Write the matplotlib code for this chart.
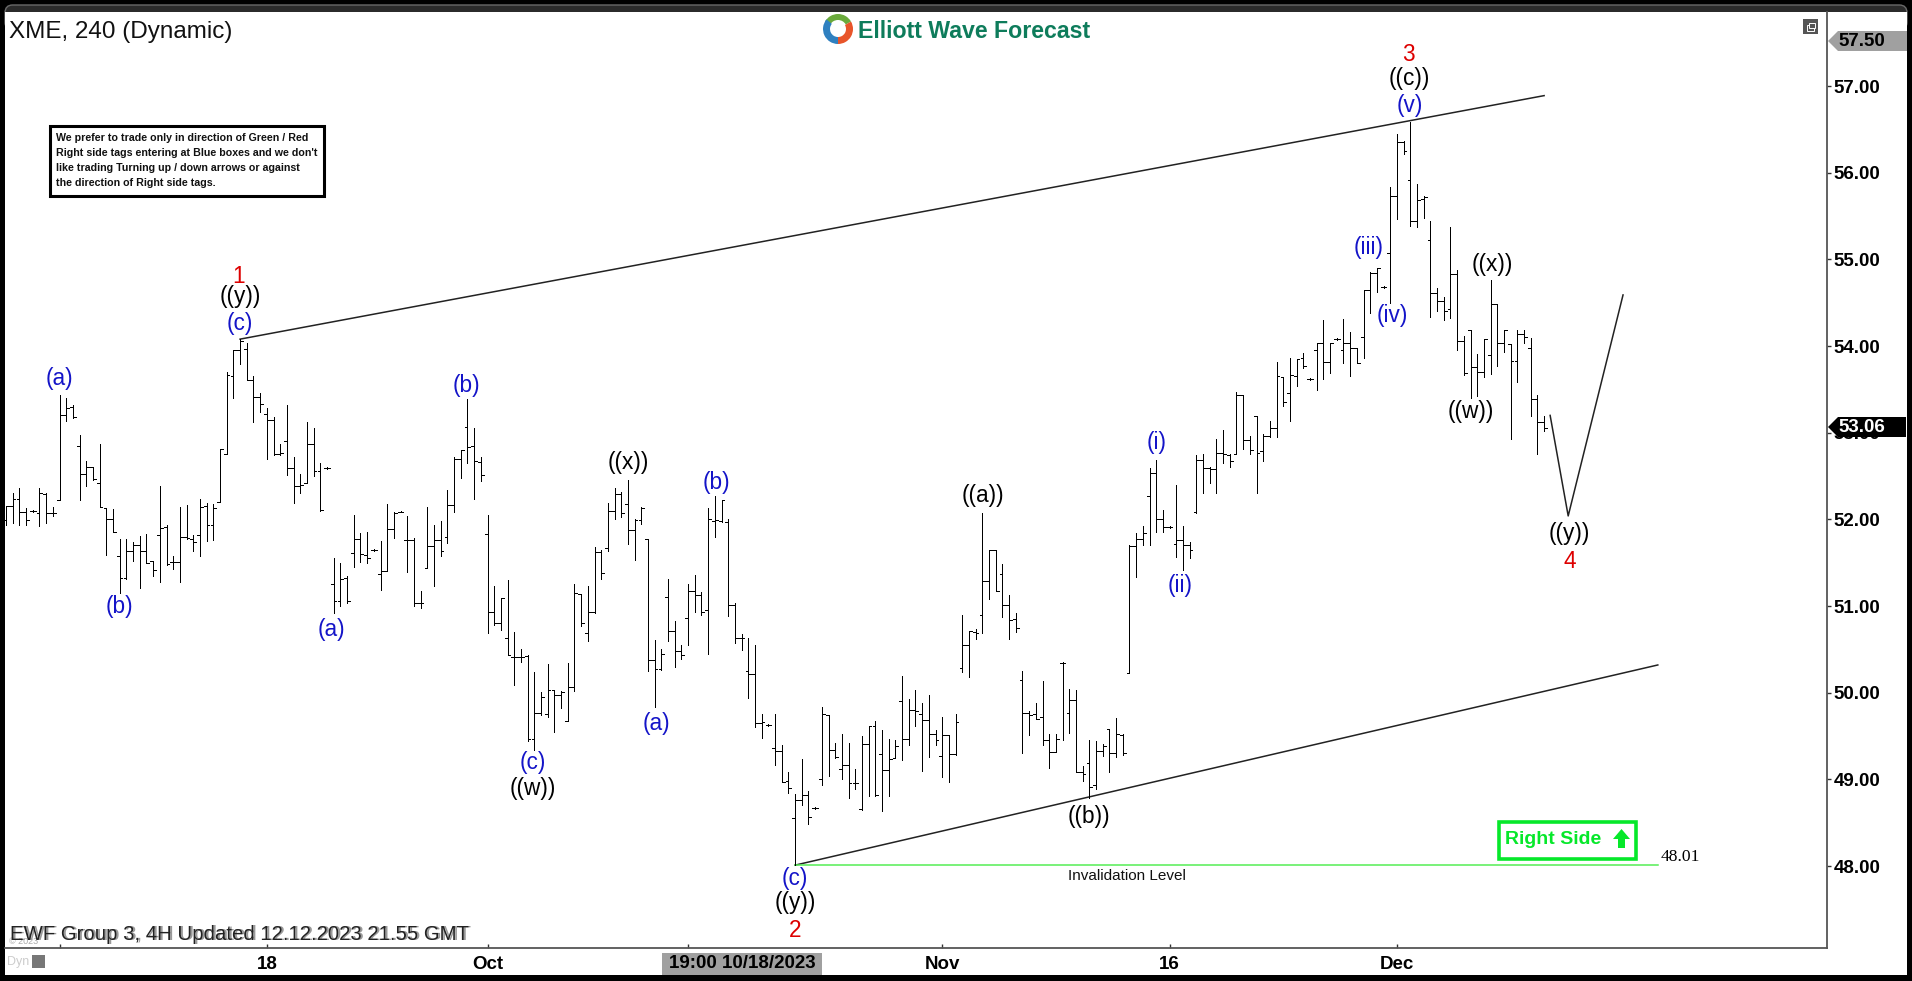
import matplotlib
matplotlib.use("Agg")
import matplotlib.pyplot as plt
from matplotlib.patches import FancyBboxPatch, Polygon, Rectangle, Wedge, Circle

plt.rcParams['font.family'] = ['Liberation Sans', 'DejaVu Sans']

W, H = 1912, 981

# 4H bars, XME (one row = 10 bars)
highs = [
    52.15, 52.31, 52.36, 52.13, 52.11, 52.36, 52.30, 52.14, 53.44, 53.40,
    53.32, 52.97, 52.67, 52.61, 52.87, 52.13, 52.12, 51.77, 51.77, 51.74,
    51.81, 51.83, 51.52, 52.39, 51.94, 51.58, 52.14, 52.17, 51.82, 52.24,
    52.19, 52.18, 52.81, 53.70, 53.95, 54.08, 54.03, 53.65, 53.46, 53.28,
    53.18, 52.87, 53.32, 52.72, 52.52, 53.12, 53.05, 52.65, 52.60, 51.55,
    51.50, 51.35, 52.05, 51.84, 51.85, 51.66, 51.75, 52.18, 52.08, 52.10,
    52.04, 51.78, 51.17, 52.14, 51.94, 51.98, 52.34, 52.72, 52.80, 53.39,
    53.05, 52.72, 52.05, 51.23, 51.09, 51.30, 50.70, 50.51, 50.44, 50.24,
    50.01, 50.33, 50.03, 50.02, 50.34, 51.25, 51.14, 51.23, 51.68, 51.65,
    52.19, 52.36, 52.32, 52.45, 52.00, 52.14, 51.77, 50.61, 50.50, 51.31,
    50.83, 50.55, 51.26, 51.36, 51.16, 52.13, 52.27, 52.22, 52.00, 51.04,
    50.68, 50.63, 50.55, 49.75, 49.64, 49.75, 49.40, 49.09, 48.83, 49.24,
    48.87, 48.68, 49.83, 49.74, 49.42, 49.52, 49.42, 49.12, 49.50, 49.62,
    49.67, 49.57, 49.47, 49.45, 50.19, 49.93, 50.03, 49.88, 49.97, 49.57,
    49.72, 49.51, 49.75, 50.90, 50.71, 50.74, 52.07, 51.65, 51.65, 51.48,
    51.13, 50.92, 50.25, 49.79, 49.88, 50.13, 49.52, 49.52, 50.35, 50.04,
    50.03, 49.15, 49.45, 49.44, 49.41, 49.58, 49.71, 49.52, 51.70, 51.84,
    51.92, 52.59, 52.68, 52.11, 51.92, 52.40, 51.92, 51.74, 52.74, 52.76,
    52.60, 52.93, 53.03, 52.76, 53.47, 53.43, 52.96, 53.19, 52.98, 53.13,
    53.82, 53.64, 53.86, 53.85, 53.92, 53.63, 54.04, 54.30, 54.04, 54.09,
    54.31, 54.16, 53.98, 54.65, 54.85, 54.90, 54.69, 55.83, 56.45, 56.37,
    56.59, 55.87, 55.73, 55.44, 54.67, 54.57, 55.37, 54.88, 54.12, 54.19,
    53.91, 54.08, 54.76, 54.49, 54.19, 54.02, 54.18, 54.19, 54.09, 53.44,
    53.19,
]
lows = [
    51.94, 51.96, 51.94, 51.94, 52.09, 51.92, 51.96, 52.04, 52.22, 53.13,
    53.17, 52.22, 52.38, 52.45, 52.14, 51.59, 51.86, 51.15, 51.31, 51.52,
    51.21, 51.50, 51.35, 51.28, 51.47, 51.43, 51.28, 51.77, 51.63, 51.58,
    51.75, 51.76, 52.20, 52.76, 53.40, 53.79, 53.61, 53.12, 53.24, 52.70,
    52.74, 52.74, 52.51, 52.19, 52.31, 52.42, 52.50, 52.10, 52.58, 50.92,
    51.00, 51.04, 51.45, 51.51, 51.50, 51.64, 51.19, 51.40, 51.79, 52.08,
    51.39, 51.00, 50.98, 51.44, 51.23, 51.58, 51.73, 52.09, 52.48, 52.65,
    52.24, 52.44, 50.69, 50.78, 50.72, 50.43, 50.09, 50.35, 49.44, 49.34,
    49.74, 49.72, 49.55, 49.82, 49.67, 50.02, 50.77, 50.60, 50.92, 51.31,
    51.63, 52.01, 52.03, 51.72, 51.53, 51.95, 50.25, 49.83, 50.26, 50.60,
    50.30, 50.39, 50.55, 50.93, 50.90, 50.45, 51.80, 51.97, 50.89, 50.57,
    50.49, 49.94, 49.61, 49.48, 49.62, 49.17, 48.97, 48.84, 48.01, 48.70,
    48.48, 48.66, 48.93, 49.04, 49.25, 49.00, 48.78, 48.89, 48.65, 48.81,
    48.81, 48.63, 48.81, 49.25, 49.22, 49.40, 49.62, 49.10, 49.26, 49.40,
    49.03, 48.97, 49.28, 50.24, 50.18, 50.62, 50.69, 51.08, 51.17, 50.87,
    50.62, 50.70, 49.30, 49.51, 49.70, 49.40, 49.13, 49.31, 49.45, 49.53,
    49.08, 48.98, 48.78, 48.89, 49.27, 49.08, 49.26, 49.28, 50.23, 51.34,
    51.71, 51.71, 51.85, 51.85, 51.90, 51.57, 51.42, 51.55, 52.07, 52.31,
    52.42, 52.31, 52.65, 52.60, 52.76, 52.81, 52.76, 52.31, 52.67, 52.95,
    52.95, 53.31, 53.13, 53.54, 53.75, 53.61, 53.49, 53.62, 53.69, 54.07,
    53.81, 53.66, 53.81, 53.86, 54.38, 54.62, 54.67, 54.50, 55.47, 56.22,
    55.39, 55.37, 55.48, 54.34, 54.41, 54.30, 54.32, 53.96, 53.67, 53.40,
    53.42, 53.64, 53.68, 53.77, 53.93, 52.93, 53.59, 54.03, 53.19, 52.76,
    53.02,
]
opens = [
    51.99, 52.15, 52.24, 52.08, 52.10, 52.07, 52.29, 52.07, 52.22, 53.21,
    53.30, 52.85, 52.52, 52.61, 52.42, 52.13, 52.01, 51.58, 51.32, 51.64,
    51.70, 51.64, 51.52, 51.82, 51.91, 51.51, 51.51, 51.80, 51.77, 51.82,
    52.15, 51.94, 52.20, 52.76, 53.66, 53.96, 53.97, 53.61, 53.41, 53.22,
    53.15, 52.76, 52.90, 52.59, 52.39, 52.42, 52.87, 52.56, 52.59, 51.25,
    51.06, 51.32, 51.61, 51.77, 51.59, 51.65, 51.37, 51.41, 51.89, 52.09,
    51.76, 51.76, 51.03, 51.44, 51.69, 51.76, 51.80, 52.17, 52.70, 53.07,
    52.85, 52.66, 51.83, 50.93, 50.80, 50.63, 50.41, 50.41, 50.42, 49.47,
    49.77, 49.76, 50.03, 49.97, 49.67, 50.07, 51.14, 50.69, 50.93, 51.62,
    51.67, 52.10, 52.29, 52.18, 51.88, 51.99, 51.77, 50.38, 50.27, 51.11,
    50.71, 50.48, 50.86, 51.17, 51.13, 50.96, 51.98, 51.98, 51.97, 51.01,
    50.63, 50.25, 50.22, 49.65, 49.63, 49.36, 49.33, 48.98, 48.55, 48.76,
    48.82, 48.67, 49.00, 49.74, 49.34, 49.12, 49.17, 48.96, 48.66, 49.41,
    49.62, 49.29, 49.11, 49.25, 49.90, 49.47, 49.80, 49.75, 49.69, 49.52,
    49.27, 49.51, 49.29, 50.29, 50.55, 50.70, 50.90, 51.29, 51.65, 51.37,
    51.01, 50.85, 50.15, 49.77, 49.75, 49.72, 49.45, 49.31, 50.34, 49.77,
    49.92, 49.08, 49.19, 48.94, 49.33, 49.58, 49.30, 49.51, 50.23, 51.69,
    51.77, 52.27, 52.54, 52.01, 51.91, 51.72, 51.76, 51.70, 52.09, 52.68,
    52.59, 52.58, 52.77, 52.74, 52.76, 53.43, 52.92, 53.19, 52.79, 52.96,
    53.06, 53.64, 53.46, 53.65, 53.86, 53.62, 53.96, 54.04, 53.82, 54.08,
    53.96, 54.04, 53.98, 54.11, 54.65, 54.84, 54.68, 55.07, 55.73, 56.35,
    55.92, 55.44, 55.70, 55.22, 54.61, 54.52, 54.43, 54.83, 54.06, 54.19,
    53.76, 53.70, 53.90, 54.49, 54.04, 54.02, 53.83, 54.14, 53.98, 53.39,
    53.12,
]
closes = [
    52.15, 52.24, 52.08, 51.99, 52.10, 52.30, 52.07, 52.07, 53.21, 53.29,
    53.18, 52.52, 52.61, 52.47, 52.14, 52.01, 51.86, 51.32, 51.64, 51.70,
    51.64, 51.50, 51.42, 51.90, 51.48, 51.51, 51.80, 51.79, 51.74, 52.14,
    51.94, 52.13, 52.81, 53.67, 53.95, 54.06, 53.61, 53.41, 53.33, 53.15,
    52.76, 52.77, 52.59, 52.39, 52.40, 52.87, 52.56, 52.11, 52.59, 51.06,
    51.31, 51.06, 51.77, 51.60, 51.55, 51.65, 51.41, 51.89, 52.07, 52.09,
    51.76, 51.03, 51.03, 51.69, 51.76, 51.63, 52.17, 52.70, 52.80, 52.84,
    52.67, 52.51, 50.93, 50.80, 51.09, 50.43, 50.41, 50.41, 49.47, 49.77,
    49.95, 50.03, 49.97, 50.01, 50.07, 51.15, 50.81, 50.93, 51.62, 51.38,
    52.10, 52.29, 52.07, 51.88, 51.99, 52.13, 50.38, 50.27, 50.45, 50.71,
    50.48, 50.44, 51.17, 51.13, 50.93, 52.00, 51.99, 52.22, 51.01, 50.63,
    50.63, 50.22, 49.65, 49.66, 49.63, 49.33, 48.97, 48.90, 48.76, 48.82,
    48.56, 48.67, 49.75, 49.34, 49.26, 49.17, 48.96, 48.96, 49.41, 49.62,
    48.82, 49.11, 49.23, 49.39, 49.47, 49.80, 49.79, 49.69, 49.52, 49.45,
    49.51, 49.29, 49.66, 50.55, 50.71, 50.69, 51.29, 51.65, 51.17, 51.01,
    50.84, 50.75, 49.77, 49.74, 49.70, 49.45, 49.31, 49.46, 50.34, 49.92,
    49.08, 49.06, 48.91, 49.33, 49.38, 49.30, 49.52, 49.30, 51.69, 51.77,
    51.84, 52.54, 52.01, 51.91, 51.91, 51.76, 51.70, 51.65, 52.68, 52.59,
    52.58, 52.77, 52.75, 52.67, 53.43, 52.92, 52.80, 52.77, 52.96, 53.06,
    53.65, 53.35, 53.67, 53.85, 53.77, 53.62, 54.04, 53.82, 54.04, 54.08,
    54.04, 53.98, 53.81, 54.65, 54.84, 54.90, 54.68, 55.73, 56.35, 56.25,
    55.44, 55.69, 55.72, 54.61, 54.52, 54.41, 54.83, 54.06, 53.69, 53.76,
    53.70, 54.08, 54.49, 54.03, 54.19, 53.83, 54.14, 54.10, 53.39, 53.12,
    53.06,
]

# wave labels: text, bar number, price at the label centre
blue_labels = [("(a)", 8.0, 53.62), ("(b)", 17.0, 51.00), ("(a)", 48.7, 50.73), ("(b)", 68.8, 53.55),
               ("(c)", 78.8, 49.20), ("(a)", 97.2, 49.65), ("(b)", 106.3, 52.42), ("(c)", 118.0, 47.86),
               ("(c)", 35.0, 54.26), ("(i)", 172.0, 52.89), ("(ii)", 175.6, 51.24), ("(iii)", 203.7, 55.14),
               ("(iv)", 207.3, 54.35), ("(v)", 209.9, 56.78)]
black_labels = [("((y))", 35.0, 54.57), ("((w))", 78.8, 48.89), ("((x))", 93.0, 52.66), ("((y))", 118.0, 47.58),
                ("((a))", 146.1, 52.27), ("((b))", 162.0, 48.57), ("((c))", 209.9, 57.09), ("((x))", 222.3, 54.94),
                ("((w))", 219.0, 53.25), ("((y))", 233.8, 51.84)]
red_labels = [("1", 34.8, 54.80), ("2", 118.0, 47.26), ("3", 209.7, 57.36), ("4", 233.8, 51.51)]

# channel and projection lines
upper_x, upper_y = [35, 230], [54.08, 56.89]
lower_x, lower_y = [118, 247], [48.01, 50.32]
proj_x, proj_y = [230.9, 233.6, 241.8], [53.20, 52.04, 54.59]
invalid_x, invalid_y = [118, 247], [48.01, 48.01]

y_ticks = [48, 49, 50, 51, 52, 53, 54, 55, 56, 57]
x_ticks = [8, 39, 72, 102, 140, 174, 208]
x_labels = ["", "18", "Oct", "", "Nov", "16", "Dec"]

fig = plt.figure(figsize=(W / 100, H / 100), dpi=100, facecolor="black")


def fx(px):
    return px / W


def fy(py):
    return 1 - py / H


# window frame
fig.add_artist(FancyBboxPatch((fx(5), fy(30)), fx(1902), 25 / H, boxstyle="round,pad=0,rounding_size=0.004",
                              transform=fig.transFigure, fc="#2b2b2b", ec="#6a6a6a", lw=1, mutation_aspect=2,
                              zorder=-3))
fig.add_artist(Rectangle((fx(5), fy(975)), fx(1902), 963 / H, transform=fig.transFigure, fc="white", ec="none",
                         zorder=-2))

ax = fig.add_axes([fx(5), fy(948), fx(1822), 936 / H])
ax.patch.set_alpha(0)
ax.set_xlim(-0.15, 272.3)
ax.set_ylim(47.054, 57.855)

for s in ["left", "top"]:
    ax.spines[s].set_visible(False)
for s in ["right", "bottom"]:
    ax.spines[s].set_color("#555555")
    ax.spines[s].set_linewidth(1.3)

ax.yaxis.tick_right()
ax.set_yticks(y_ticks)
ax.set_yticklabels(["%.2f" % v for v in y_ticks], fontsize=13.5, fontweight="bold")
ax.tick_params(axis="y", length=3, width=1, pad=2, color="#333333")
ax.set_xticks(x_ticks)
ax.set_xticklabels(x_labels, fontsize=13.5, fontweight="bold")
ax.tick_params(axis="x", length=3, width=1, pad=6, color="#333333", direction="in")

# OHLC bars
n = list(range(len(highs)))
ax.vlines(n, lows, highs, color="black", lw=0.72, antialiased=False, zorder=3)
ax.hlines(opens, [i - 0.42 for i in n], n, color="black", lw=0.72, antialiased=False, zorder=3)
ax.hlines(closes, n, [i + 0.42 for i in n], color="black", lw=0.72, antialiased=False, zorder=3)

ax.plot(upper_x, upper_y, color="#222222", lw=1.1, zorder=2)
ax.plot(lower_x, lower_y, color="#222222", lw=1.1, zorder=2)
ax.plot(proj_x, proj_y, color="#222222", lw=1.1, zorder=2)
ax.plot(invalid_x, invalid_y, color="#55ee55", lw=1.1, zorder=2)

for labels, col in [(blue_labels, "#1414c8"), (black_labels, "black"), (red_labels, "#dd0000")]:
    for txt, bx, by in labels:
        ax.text(bx, by, txt, color=col, fontsize=16.3, ha="center", va="center", zorder=4)

ax.text(247.4, 48.10, "48.01", family="Liberation Serif", fontsize=12.6, ha="left", va="center")
ax.text(167.6, 47.88, "Invalidation Level", fontsize=11, ha="center", va="center", color="#111111")

# titles and notes
fig.text(fx(9), fy(32), "XME, 240 (Dynamic)", fontsize=17.5, color="#111111", ha="left", va="center")
fig.text(fx(11.5), fy(935), "EWF Group 3, 4H Updated 12.12.2023 21.55 GMT", fontsize=14.7,
         color="#9a9a9a", ha="left", va="center")
fig.text(fx(10), fy(934), "EWF Group 3, 4H Updated 12.12.2023 21.55 GMT", fontsize=14.7,
         color="#222222", ha="left", va="center")
fig.text(fx(9), fy(941), "© 2023", fontsize=6.5, color="#aaaaaa", ha="left", va="center", zorder=0)
fig.text(fx(7), fy(962), "Dyn", fontsize=9, color="#cccccc", ha="left", va="center")
fig.add_artist(Rectangle((fx(32), fy(968)), fx(13), 13 / H, transform=fig.transFigure, fc="#777777", ec="none"))

fig.add_artist(Rectangle((fx(50), fy(196)), fx(274), 70 / H, transform=fig.transFigure, fc="white", ec="black", lw=2.2))
note = ["We prefer to trade only in direction of Green / Red",
        "Right side tags entering at Blue boxes and we don't",
        "like trading Turning up / down arrows or against",
        "the direction of Right side tags."]
for i, line in enumerate(note):
    fig.text(fx(55.5), fy(138 + i * 15), line, fontsize=7.7, fontweight="bold", color="#111111", ha="left", va="center")

# logo
cx, cy = 838, 29
logo_ax = fig.add_axes([fx(cx - 16), fy(cy + 16), fx(32), 32 / H])
logo_ax.set_xlim(-16, 16)
logo_ax.set_ylim(-16, 16)
logo_ax.axis("off")
logo_ax.add_patch(Wedge((0, 0), 15, 30, 150, width=6, fc="#6aaa3c", ec="none"))
logo_ax.add_patch(Wedge((0, 0), 15, 140, 270, width=7, fc="#2f80c0", ec="none"))
logo_ax.add_patch(Wedge((0, 0), 15, 270, 390, width=7, fc="#e8552a", ec="none"))
logo_ax.add_patch(Circle((0, 0), 6, fc="white", ec="none"))
fig.text(fx(858), fy(31), "Elliott Wave Forecast", fontsize=16.7, fontweight="bold", color="#0e7c5b", ha="left", va="center")

# Right Side tag
fig.add_artist(Rectangle((fx(1498.5), fy(858.5)), fx(137), 37 / H, transform=fig.transFigure, fc="white", ec="#06e82a", lw=2.6))
fig.text(fx(1505), fy(839), "Right Side", fontsize=14, fontweight="bold", color="#06e82a", ha="left", va="center")
fig.add_artist(Polygon([(fx(1621.5), fy(829)), (fx(1630), fy(839)), (fx(1625), fy(839)), (fx(1625), fy(848)),
                        (fx(1618), fy(848)), (fx(1618), fy(839)), (fx(1613), fy(839))],
                       transform=fig.transFigure, fc="#06e82a", ec="none"))

# price tags on the axis
fig.add_artist(Polygon([(fx(1828), fy(41)), (fx(1838), fy(31)), (fx(1907), fy(31)), (fx(1907), fy(51)), (fx(1838), fy(51))],
                       transform=fig.transFigure, fc="#a0a0a0", ec="none", zorder=5))
fig.text(fx(1838), fy(42), "57.50", fontsize=13.5, fontweight="bold", color="black", ha="left", va="center", zorder=6)
fig.add_artist(Polygon([(fx(1828), fy(427)), (fx(1838), fy(417)), (fx(1906), fy(417)), (fx(1906), fy(437)), (fx(1838), fy(437))],
                       transform=fig.transFigure, fc="black", ec="none", zorder=5))
fig.text(fx(1838), fy(427), "53.06", fontsize=13.5, fontweight="bold", color="white", ha="left", va="center", zorder=6)

# restore icon and crosshair date box
fig.add_artist(Rectangle((fx(1803), fy(34)), fx(15), 15 / H, transform=fig.transFigure, fc="#555555", ec="none"))
fig.add_artist(Rectangle((fx(1807), fy(31)), fx(7), 6 / H, transform=fig.transFigure, fc="none", ec="white", lw=0.7))
fig.add_artist(Rectangle((fx(1809), fy(28)), fx(6), 5 / H, transform=fig.transFigure, fc="#555555", ec="white", lw=0.7))
fig.add_artist(Rectangle((fx(662), fy(975)), fx(160), 22 / H, transform=fig.transFigure, fc="#a0a0a0", ec="none", zorder=5))
fig.text(fx(742), fy(964), "19:00 10/18/2023", fontsize=13.5, fontweight="bold", color="black", ha="center", va="center", zorder=6)

fig.savefig("out.png", dpi=100, facecolor="black")
